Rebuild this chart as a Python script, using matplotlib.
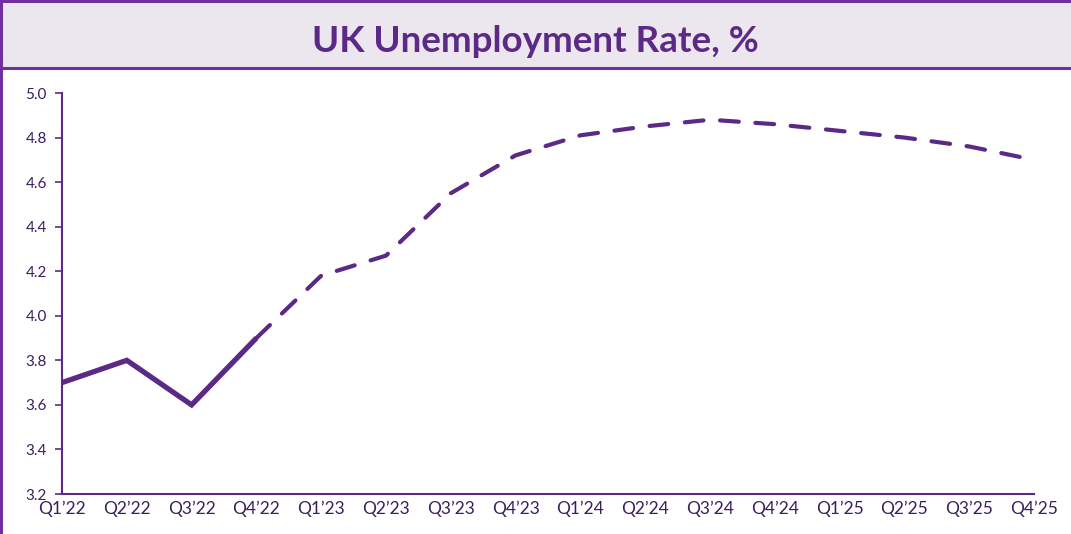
import matplotlib.pyplot as plt
from matplotlib.patches import Rectangle
from matplotlib.lines import Line2D

quarters = ["Q1\u201922", "Q2\u201922", "Q3\u201922", "Q4\u201922",
            "Q1\u201923", "Q2\u201923", "Q3\u201923", "Q4\u201923",
            "Q1\u201924", "Q2\u201924", "Q3\u201924", "Q4\u201924",
            "Q1\u201925", "Q2\u201925", "Q3\u201925", "Q4\u201925"]
actual = [3.7, 3.8, 3.6, 3.9]
forecast = [3.9, 4.18, 4.27, 4.55, 4.72, 4.81, 4.85, 4.88,
            4.86, 4.83, 4.80, 4.76, 4.70]

line_color = "#5B2A86"
border_color = "#7030A0"
text_color = "#3B1F5C"

plt.rcParams['font.family'] = ['Lato', 'DejaVu Sans']

fig = plt.figure(figsize=(10.71, 5.34), dpi=100)

# title band
fig.patches.append(Rectangle((0, 1 - 68 / 534), 1, 68 / 534, transform=fig.transFigure,
                             facecolor="#ECE6EE", edgecolor="none", zorder=0))
fig.lines.append(Line2D([0, 1], [1 - 68 / 534] * 2, transform=fig.transFigure,
                        color=border_color, lw=2.2))
fig.lines.append(Line2D([0, 1], [1 - 1 / 534] * 2, transform=fig.transFigure,
                        color=border_color, lw=2.2))
fig.lines.append(Line2D([1 / 1071] * 2, [0, 1], transform=fig.transFigure,
                        color=border_color, lw=2.2))
fig.text(0.5, 1 - 42 / 534, "UK Unemployment Rate, %", ha="center", va="center",
         fontsize=26.5, fontweight="bold", color=line_color)

ax = fig.add_axes([62 / 1071, 1 - 494 / 534, (1034 - 62) / 1071, (494 - 93) / 534])

x_actual = list(range(len(actual)))
x_forecast = list(range(len(actual) - 1, len(actual) - 1 + len(forecast)))
ax.plot(x_actual, actual, color=line_color, lw=3.8, solid_capstyle="butt",
        solid_joinstyle="miter")
ax.plot(x_forecast, forecast, color=line_color, lw=3.0, linestyle=(0, (4.5, 4.0)),
        dash_capstyle="round", dash_joinstyle="round")

ax.set_xlim(0, len(quarters) - 1)
ax.set_ylim(3.2, 5.0)
ax.set_yticks([3.2, 3.4, 3.6, 3.8, 4.0, 4.2, 4.4, 4.6, 4.8, 5.0])
ax.set_yticklabels([f"{v:.1f}" for v in ax.get_yticks()])
ax.set_xticks(range(len(quarters)))
ax.set_xticklabels(quarters)

for s in ["top", "right"]:
    ax.spines[s].set_visible(False)
for s in ["left", "bottom"]:
    ax.spines[s].set_color(line_color)
    ax.spines[s].set_linewidth(1.5)
ax.tick_params(axis="y", colors=line_color, labelcolor=text_color, labelsize=11,
               length=5, width=1.2, pad=6)
ax.tick_params(axis="x", length=0, labelcolor=text_color, labelsize=12.5, pad=5)
for l in ax.lines:
    l.set_clip_on(False)

fig.savefig("out.png", dpi=100)
